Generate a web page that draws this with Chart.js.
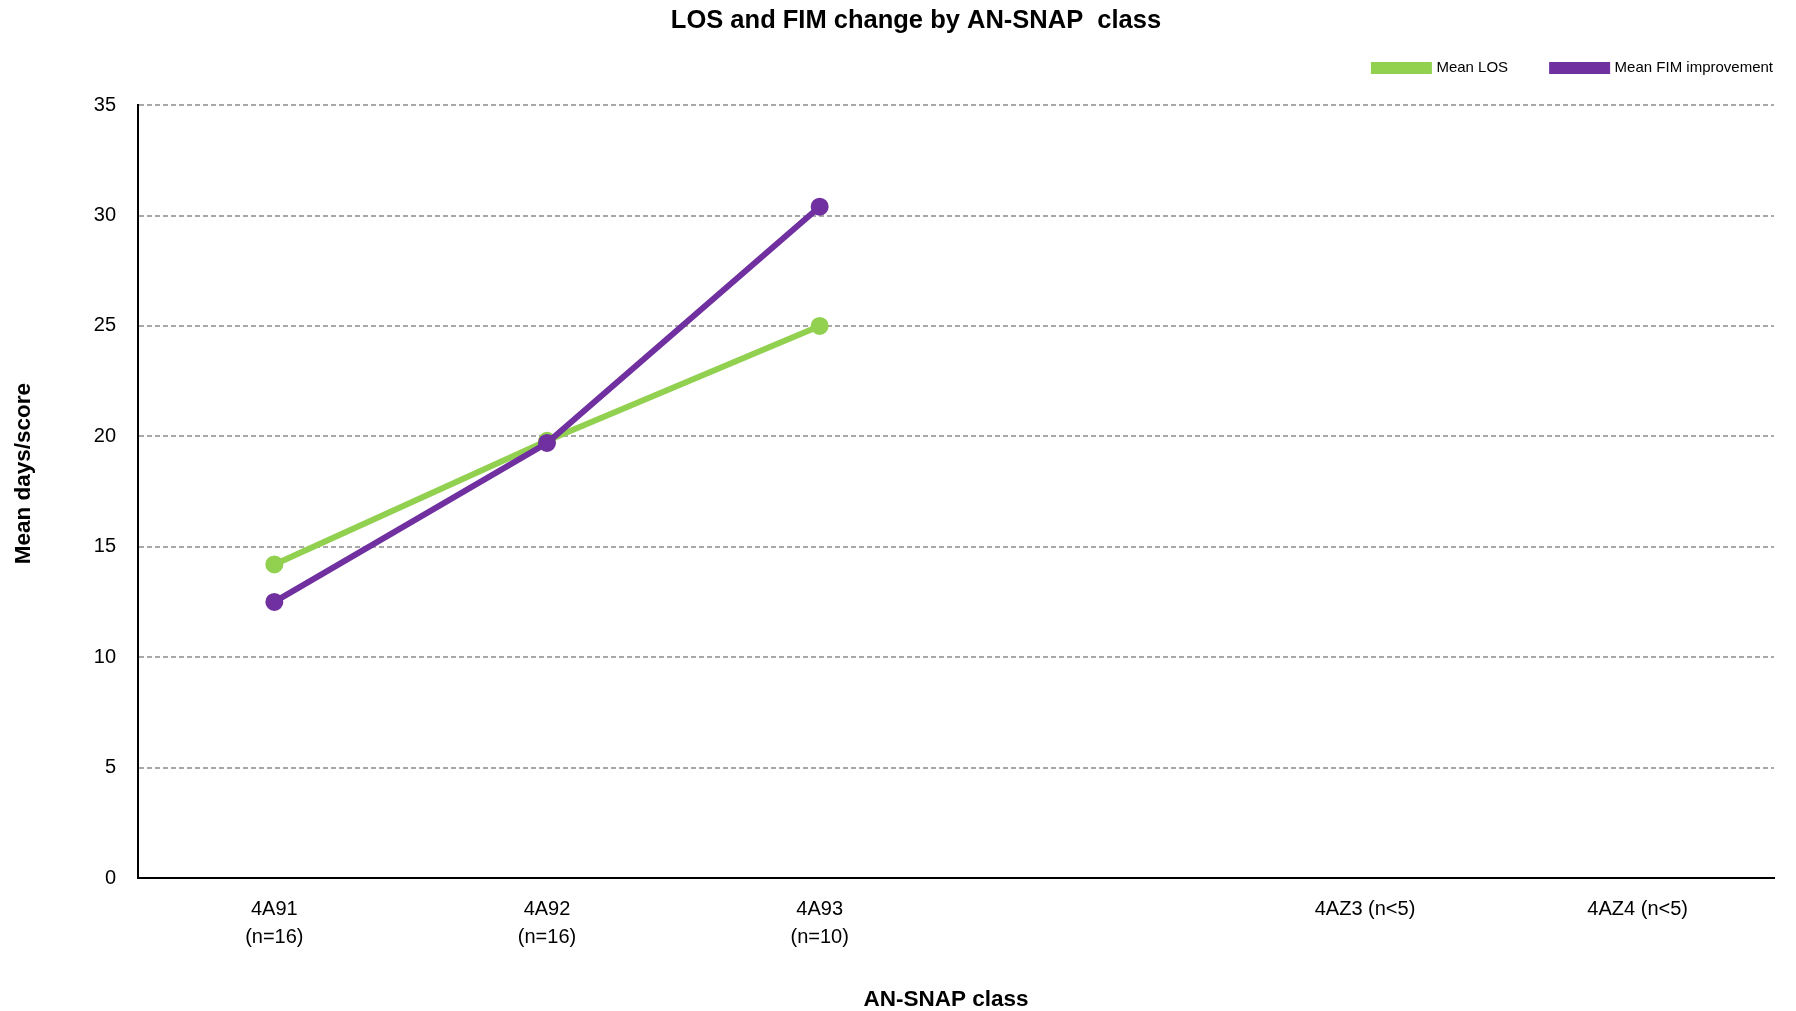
<!DOCTYPE html>
<html><head><meta charset="utf-8">
<script src="https://cdn.jsdelivr.net/npm/chart.js@4.4.1/dist/chart.umd.min.js"></script>
<style>html,body{margin:0;padding:0;background:#fff;overflow:hidden}</style>
</head><body>
<canvas id="c" width="1796" height="1011"></canvas>
<script>
const categories = [['4A91', '(n=16)'], ['4A92', '(n=16)'], ['4A93', '(n=10)'], '', '4AZ3 (n<5)', '4AZ4 (n<5)'];
const meanLOS = [14.2, 19.8, 25.0, null, null, null];
const meanFIM = [12.5, 19.7, 30.4, null, null, null];
const seriesNames = ['Mean LOS', 'Mean FIM improvement'];
const chartTitle = 'LOS and FIM change by AN-SNAP  class';
const xTitle = 'AN-SNAP class';
const yTitle = 'Mean days/score';
const yMin = 0, yMax = 35, yStep = 5;

const FONT = "'Liberation Sans', Arial, sans-serif";
const GREEN = '#92D050', PURPLE = '#7030A0';

const tweak = {
  id: 'tweak',
  afterLayout(chart) {
    const t = chart.titleBlock;
    if (t) { t.left = 58; }
    const lg = chart.legend;
    if (lg) { const h = lg.bottom - lg.top; lg.top = 16.5; lg.bottom = lg.top + h; lg.right = 1817; }
    const y = chart.scales.y;
    if (y && !y._twk) {
      y._twk = true;
      const orig = y.drawTitle;
      y.drawTitle = function () { const t0 = this.top; this.top -= 36; orig.apply(this, arguments); this.top = t0; };
    }
    const x = chart.scales.x;
    if (x && !x._twk) {
      x._twk = true;
      const origX = x.drawTitle;
      x.drawTitle = function () { const r0 = this.right; this.right -= 20; origX.apply(this, arguments); this.right = r0; };
    }
  }
};

new Chart(document.getElementById('c'), {
  type: 'line',
  data: {
    labels: categories,
    datasets: [
      { label: seriesNames[0], data: meanLOS, borderColor: GREEN, backgroundColor: GREEN,
        pointBackgroundColor: GREEN, pointBorderColor: GREEN, borderWidth: 6, pointRadius: 6,
        pointHoverRadius: 6, tension: 0, borderCapStyle: 'round', order: 1 },
      { label: seriesNames[1], data: meanFIM, borderColor: PURPLE, backgroundColor: PURPLE,
        pointBackgroundColor: PURPLE, pointBorderColor: PURPLE, borderWidth: 6, pointRadius: 6,
        pointHoverRadius: 6, tension: 0, borderCapStyle: 'round', order: 0 }
    ]
  },
  options: {
    responsive: false,
    devicePixelRatio: 1,
    animation: false,
    layout: { padding: { left: 0, right: 22, top: 0, bottom: 0 } },
    plugins: {
      title: { display: true, text: chartTitle, color: '#000',
        font: { family: FONT, size: 25.5, weight: 'bold', lineHeight: 1.2 },
        padding: { top: 5.5, bottom: 0 } },
      legend: { display: true, position: 'top', align: 'end',
        labels: { color: '#000', font: { family: FONT, size: 15, lineHeight: 1.2 },
          boxWidth: 55, boxHeight: 6, padding: 44,
          sort: (a, b) => a.datasetIndex - b.datasetIndex } },
      tooltip: { enabled: false }
    },
    scales: {
      x: {
        offset: true,
        grid: { display: false, drawTicks: false },
        border: { display: true, color: '#000', width: 2 },
        ticks: { color: '#000', font: { family: FONT, size: 20, lineHeight: 1.375 }, padding: 18,
          maxRotation: 0, autoSkip: false },
        title: { display: true, text: xTitle, color: '#000',
          font: { family: FONT, size: 22.5, weight: 'bold', lineHeight: 1 }, padding: { top: 0, bottom: 0 } },
        afterFit(s) { s.height = 133; }
      },
      y: {
        min: yMin, max: yMax,
        grid: { color: '#A8A8A8', lineWidth: 2, drawTicks: false },
        border: { display: true, color: '#000', width: 2, dash: [5, 3] },
        ticks: { stepSize: yStep, color: '#000', font: { family: FONT, size: 20 }, padding: 22 },
        title: { display: true, text: yTitle, color: '#000',
          font: { family: FONT, size: 22.5, weight: 'bold', lineHeight: 1.2 }, padding: { top: 10, bottom: 0 } },
        afterFit(s) { s.width = 138; }
      }
    }
  },
  plugins: [tweak]
});
</script>
</body></html>
